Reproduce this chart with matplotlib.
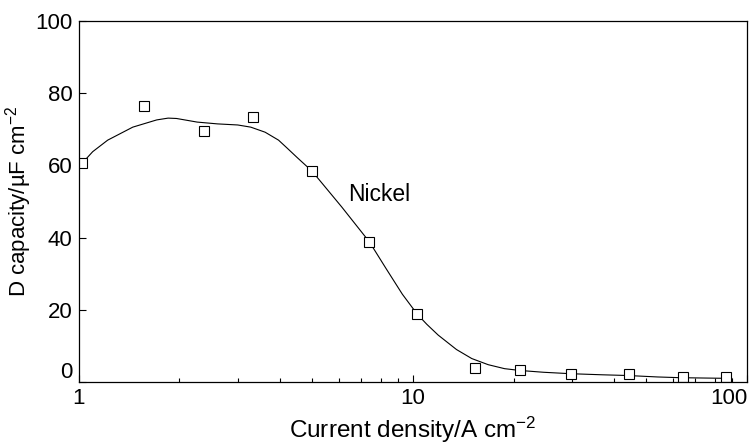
import matplotlib
matplotlib.use("Agg")
import matplotlib.pyplot as plt
from matplotlib.ticker import FixedLocator, LogLocator, NullFormatter

plt.rcParams["font.family"] = ["Liberation Sans", "DejaVu Sans"]
plt.rcParams["mathtext.fontset"] = "custom"
plt.rcParams["mathtext.rm"] = "Liberation Sans"
plt.rcParams["mathtext.it"] = "Liberation Sans:italic"

# measured points (open squares)
current = [1.02, 1.57, 2.37, 3.33, 4.99, 7.41, 10.3, 15.3, 20.9, 29.7, 44.2, 64.3, 86.4]
capacity = [60.7, 76.5, 69.5, 73.5, 58.5, 38.7, 18.8, 4.0, 3.3, 2.1, 2.1, 1.5, 1.5]

# fitted curve
curve_x = [1.0, 1.1, 1.22, 1.45, 1.71, 1.85, 1.96, 2.26, 2.60, 2.99, 3.27, 3.61,
           3.96, 4.19, 4.5, 4.99, 6.12, 7.41, 8.3, 9.3, 10.3, 11.0, 11.9, 13.5,
           15.0, 16.8, 18.8, 20.9, 24.6, 29.7, 36.9, 44.0, 54.0, 63.0, 75.0, 90.0]
curve_y = [59.6, 63.8, 67.0, 70.6, 72.6, 73.1, 73.0, 72.0, 71.5, 71.2, 70.6, 69.2,
           67.0, 64.9, 62.2, 58.4, 48.5, 38.8, 31.5, 24.3, 18.8, 16.0, 13.0, 9.0,
           6.5, 4.8, 3.7, 3.2, 2.7, 2.3, 2.0, 1.8, 1.4, 1.2, 1.1, 1.0]

fig = plt.figure(figsize=(7.51, 4.44), dpi=100)
ax = fig.add_axes([0.105, 0.1396, 0.8897, 0.8131])

ax.plot(curve_x, curve_y, color="black", lw=0.8)
ax.plot(current, capacity, ls="none", marker="s", ms=6.5, mfc="white",
        mec="black", mew=0.8)

ax.set_xscale("log")
ax.set_xlim(1, 100)
ax.set_ylim(0, 100)

ax.xaxis.set_major_locator(FixedLocator([1, 10, 100]))
ax.set_xticklabels(["1", "10", "100"])
ax.xaxis.set_minor_locator(LogLocator(base=10, subs=range(2, 10)))
ax.xaxis.set_minor_formatter(NullFormatter())
ax.set_yticks([0, 20, 40, 60, 80, 100])
ax.set_yticklabels(["", "20", "40", "60", "80", "100"])

ax.tick_params(axis="both", which="major", direction="in", length=5,
               width=0.8, labelsize=16, pad=4.5)
ax.tick_params(axis="x", which="minor", direction="in", length=3, width=0.8)
ax.tick_params(axis="y", which="minor", left=False)
ax.get_xticklabels()[-1].set_horizontalalignment("right")

# the zero label sits a little above its tick in the original
ax.annotate("0", xy=(0, 0), xycoords=("axes fraction", "data"),
            xytext=(-4.5, 6.5), textcoords="offset points",
            ha="right", va="center", fontsize=16)

for s in ax.spines.values():
    s.set_linewidth(0.9)

ax.set_xlabel("Current density/A cm$^{-2}$", fontsize=17.5)
ax.xaxis.set_label_coords(0.5, -0.09)
ax.set_ylabel("D capacity/\u00b5F cm$^{-2}$", fontsize=16)
ax.yaxis.set_label_coords(-0.067, 0.5)

ax.text(7.9, 52, "Nickel", fontsize=16.5, ha="center", va="center")

fig.savefig("out.png", dpi=100)
